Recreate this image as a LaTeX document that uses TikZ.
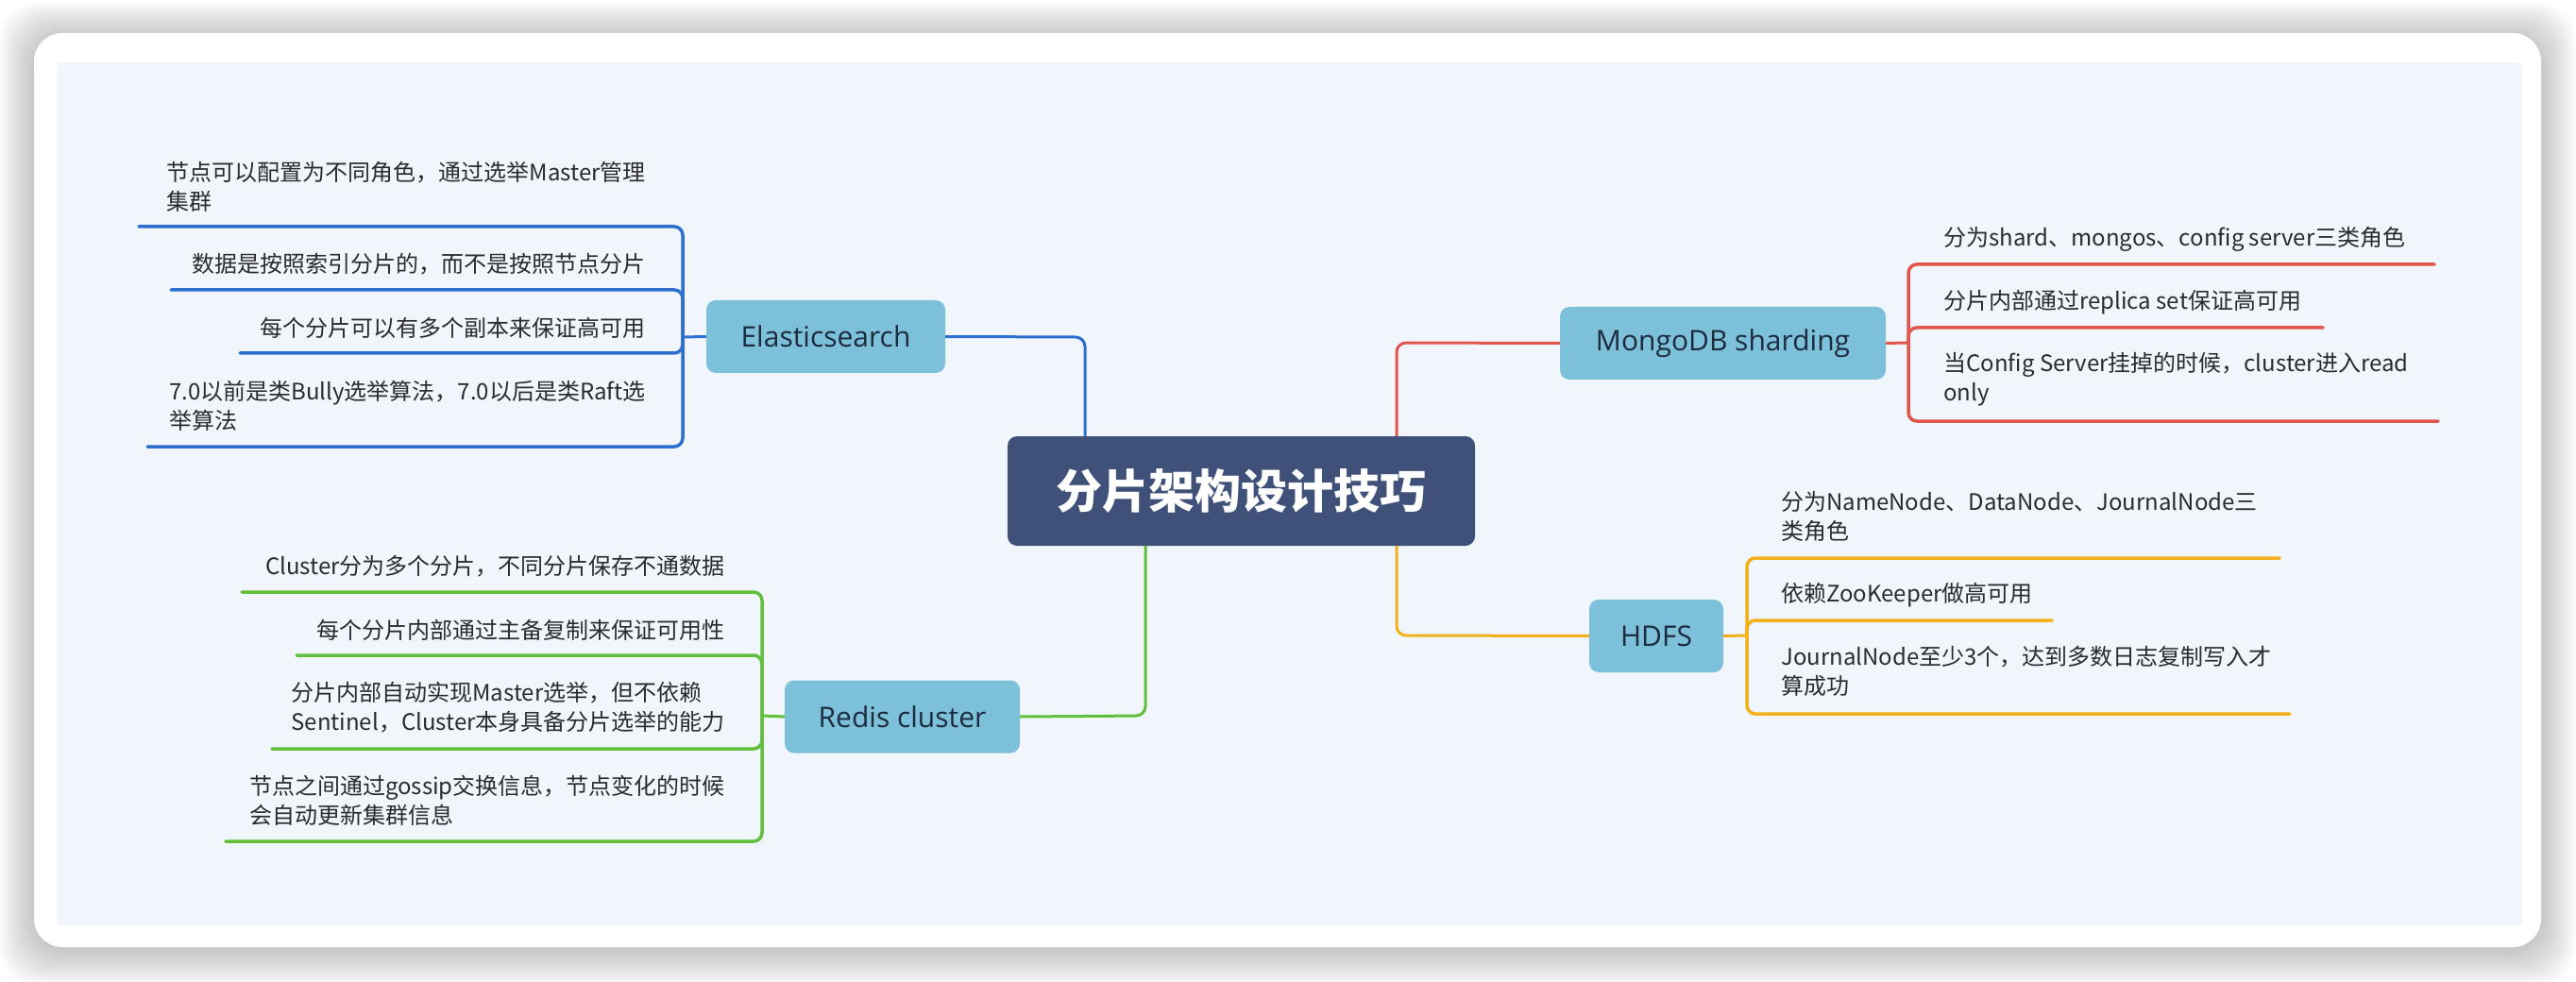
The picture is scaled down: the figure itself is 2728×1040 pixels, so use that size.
\documentclass[tikz,border=0pt]{standalone}
\usepackage{fontspec}
\setmainfont{Noto Sans CJK SC}
\newfontfamily\latfont{Open Sans}
\usetikzlibrary{calc}
\definecolor{innerbg}{HTML}{F0F6FC}
\definecolor{navy}{HTML}{3F5178}
\definecolor{boxfill}{HTML}{7CC0DA}
\definecolor{boxtext}{HTML}{1D2B3F}
\definecolor{leafc}{HTML}{2B2B2B}
\definecolor{lblue}{HTML}{2C6FD0}
\definecolor{lred}{HTML}{E2554C}
\definecolor{lgreen}{HTML}{62BF3C}
\definecolor{lgold}{HTML}{F2B11A}
\begin{document}
\begin{tikzpicture}[x=1pt,y=-1pt,
  rootbox/.style={fill=navy, rounded corners=10pt, inner sep=0pt, minimum width=495pt, minimum height=116pt,
    text=white, font=\fontsize{49}{55}\selectfont\bfseries},
  branchbox/.style={fill=boxfill, rounded corners=10pt, inner sep=0pt, minimum height=77pt,
    text=boxtext, font=\latfont\fontsize{30}{34}\selectfont},
  leaf/.style={inner sep=0pt, align=left, text=leafc, font=\fontsize{24}{31}\selectfont},
  mainline/.style={line width=3pt, rounded corners=10pt},
  subline/.style={line width=3.5pt, rounded corners=9pt, line cap=round}
]
\useasboundingbox (0,0) rectangle (2728,1040);
% card shadow
\foreach \i in {1,...,12}{
  \fill[black, opacity=0.02, rounded corners=40pt] (36-3*\i,39-3*\i) rectangle (2691+3*\i,1007+3*\i);
}
\fill[white, rounded corners=30pt] (36,35) rectangle (2691,1003);
\fill[innerbg] (61,66) rectangle (2671,980);

% root and branch boxes
\node[rootbox] (root) at (1314.5,520) {分片架构设计技巧};
\node[branchbox, minimum width=253pt] (es) at (874.5,356.5) {Elasticsearch};
\node[branchbox, minimum width=249pt] (rd) at (955.5,759) {Redis cluster};
\node[branchbox, minimum width=345pt] (mg) at (1824.5,363.5) {MongoDB sharding};
\node[branchbox, minimum width=142pt] (hd) at (1754,673.5) {HDFS};

% main connectors
\coordinate (esj) at (1149,357);
\coordinate (rdj) at (1213,758);
\coordinate (mgj) at (1479,363);
\coordinate (hdj) at (1479,673);
\draw[mainline, lblue] (es.east) -- (esj) -- (esj |- root.north);
\draw[mainline, lgreen] (rd.east) -- (rdj) -- (rdj |- root.south);
\draw[mainline, lred] (mgj |- root.north) -- (mgj) -- (mg.west);
\draw[mainline, lgold] (hdj |- root.south) -- (hdj) -- (hd.west);

% Elasticsearch leaves
\coordinate (esb) at (723,357);
\coordinate (esu1) at (147,240);
\coordinate (esu2) at (181,307);
\coordinate (esu3) at (254,374);
\coordinate (esu4) at (156,473);
\node[leaf, anchor=east] (est1) at (684,198) {节点可以配置为不同角色，通过选举Master管理\\集群};
\node[leaf, anchor=east] (est2) at (684,280) {数据是按照索引分片的，而不是按照节点分片};
\node[leaf, anchor=east] (est3) at (684,347) {每个分片可以有多个副本来保证高可用};
\node[leaf, anchor=east] (est4) at (684,430) {7.0以前是类Bully选举算法，7.0以后是类Raft选\\举算法};
\draw[line width=3pt, lblue] (es.west) -- (esb);
\foreach \u in {esu1,esu2,esu3,esu4}{
  \draw[subline, lblue] (esb) -- (esb |- \u) -- (\u);
}

% Redis leaves
\coordinate (rdb) at (807,758);
\coordinate (rdu1) at (256,627);
\coordinate (rdu2) at (314,694);
\coordinate (rdu3) at (288,793);
\coordinate (rdu4) at (239,891);
\node[leaf, anchor=east] (rdt1) at (768,600) {Cluster分为多个分片，不同分片保存不通数据};
\node[leaf, anchor=east] (rdt2) at (768,667) {每个分片内部通过主备复制来保证可用性};
\node[leaf, anchor=east] (rdt3) at (768,749) {分片内部自动实现Master选举，但不依赖\\Sentinel，Cluster本身具备分片选举的能力};
\node[leaf, anchor=east] (rdt4) at (768,848) {节点之间通过gossip交换信息，节点变化的时候\\会自动更新集群信息};
\draw[line width=3pt, lgreen] (rd.west) -- (rdb);
\foreach \u in {rdu1,rdu2,rdu3,rdu4}{
  \draw[subline, lgreen] (rdb) -- (rdb |- \u) -- (\u);
}

% MongoDB leaves
\coordinate (mgb) at (2021,363);
\coordinate (mgu1) at (2578,280);
\coordinate (mgu2) at (2460,347);
\coordinate (mgu3) at (2582,446);
\node[leaf, anchor=west] (mgt1) at (2058,253) {分为shard、mongos、config server三类角色};
\node[leaf, anchor=west] (mgt2) at (2058,320) {分片内部通过replica set保证高可用};
\node[leaf, anchor=west] (mgt3) at (2058,402) {当Config Server挂掉的时候，cluster进入read\\only};
\draw[line width=3pt, lred] (mg.east) -- (mgb);
\foreach \u in {mgu1,mgu2,mgu3}{
  \draw[subline, lred] (mgb) -- (mgb |- \u) -- (\u);
}

% HDFS leaves
\coordinate (hdb) at (1850,673);
\coordinate (hdu1) at (2414,591);
\coordinate (hdu2) at (2173,657);
\coordinate (hdu3) at (2425,756);
\node[leaf, anchor=west] (hdt1) at (1886,547) {分为NameNode、DataNode、JournalNode三\\类角色};
\node[leaf, anchor=west] (hdt2) at (1886,630) {依赖ZooKeeper做高可用};
\node[leaf, anchor=west] (hdt3) at (1886,711) {JournalNode至少3个，达到多数日志复制写入才\\算成功};
\draw[line width=3pt, lgold] (hd.east) -- (hdb);
\foreach \u in {hdu1,hdu2,hdu3}{
  \draw[subline, lgold] (hdb) -- (hdb |- \u) -- (\u);
}
\end{tikzpicture}
\end{document}
